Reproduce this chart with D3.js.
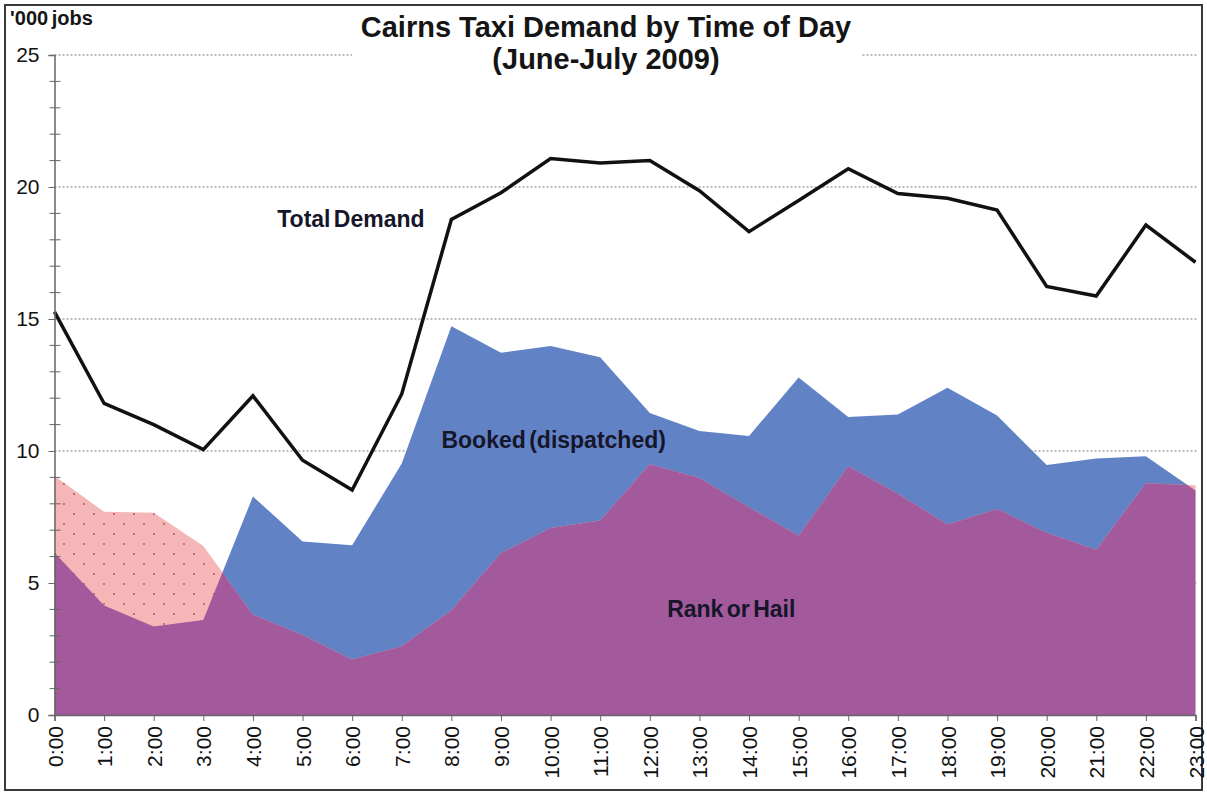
<!DOCTYPE html>
<html>
<head>
<meta charset="utf-8">
<script src="https://cdn.jsdelivr.net/npm/d3@7"></script>
<style>
  body { margin: 0; background: #fff; }
  svg { display: block; font-family: "Liberation Sans", Arial, sans-serif; }
</style>
</head>
<body>
<div id="chart"></div>
<script>
const hours = ["0:00", "1:00", "2:00", "3:00", "4:00", "5:00", "6:00", "7:00", "8:00", "9:00", "10:00", "11:00",
  "12:00", "13:00", "14:00", "15:00", "16:00", "17:00", "18:00", "19:00", "20:00", "21:00", "22:00", "23:00"];

// '000 jobs
const rankOrHail = [9.05, 7.7, 7.66, 6.4, 3.8, 3.03, 2.1, 2.6, 3.97, 6.14, 7.08, 7.37,
  9.5, 8.98, 7.87, 6.79, 9.42, 8.38, 7.22, 7.8, 6.9, 6.26, 8.78, 8.7];
const booked = [6.15, 4.15, 3.35, 3.6, 8.28, 6.57, 6.43, 9.53, 14.73, 13.72, 13.98, 13.55,
  11.44, 10.76, 10.57, 12.78, 11.29, 11.38, 12.4, 11.34, 9.47, 9.72, 9.8, 8.5];
const totalDemand = [15.27, 11.8, 11.0, 10.05, 12.09, 9.65, 8.52, 12.16, 18.77, 19.78, 21.08, 20.91,
  21.0, 19.86, 18.31, 19.49, 20.69, 19.75, 19.57, 19.13, 16.23, 15.87, 18.56, 17.15];

const majorTicks = [0, 5, 10, 15, 20, 25];
const minorTicks = [1, 2, 3, 4, 6, 7, 8, 9, 11, 12, 13, 14, 16, 17, 18, 19, 21, 22, 23, 24];

const width = 1207, height = 796;
const svg = d3.select("#chart").append("svg").attr("width", width).attr("height", height);

const x = d3.scalePoint().domain(hours).range([54.5, 1195.5]);
const xi = d3.scaleLinear().domain([0, 23]).range([54.5, 1195.5]);
const y = d3.scaleLinear().domain([0, 25]).range([715, 55]);

// outer frame
svg.append("rect")
  .attr("x", 5).attr("y", 5).attr("width", 1197).attr("height", 785)
  .attr("fill", "none").attr("stroke", "#3a3a3a").attr("stroke-width", 2);

// dotted pink fill
const defs = svg.append("defs");
const pat = defs.append("pattern")
  .attr("id", "pinkdots").attr("patternUnits", "userSpaceOnUse")
  .attr("width", 20).attr("height", 20);
pat.append("rect").attr("width", 20).attr("height", 20).attr("fill", "#f4b6b6");
pat.append("circle").attr("cx", 4).attr("cy", 4).attr("r", 0.9).attr("fill", "#c8405a");
pat.append("circle").attr("cx", 14).attr("cy", 14).attr("r", 0.9).attr("fill", "#c8405a");

// gridlines
svg.append("g")
  .selectAll("line")
  .data(majorTicks.filter(d => d > 0))
  .join("line")
  .attr("x1", x(hours[0])).attr("x2", x(hours[hours.length - 1]) + 2)
  .attr("y1", d => y(d)).attr("y2", d => y(d))
  .attr("stroke", "#777").attr("stroke-width", 1).attr("stroke-dasharray", "2 2");

const bookedArea = d3.area()
  .x((d, i) => x(hours[i]))
  .y0(y(0))
  .y1(d => y(d));

defs.append("clipPath").attr("id", "bookedClip")
  .append("path").attr("d", bookedArea(booked));

svg.append("path").attr("d", bookedArea(booked)).attr("fill", "#6282c6");
svg.append("path").attr("d", bookedArea(rankOrHail)).attr("fill", "url(#pinkdots)");
svg.append("path").attr("d", bookedArea(rankOrHail))
  .attr("fill", "#a25a9c")
  .attr("clip-path", "url(#bookedClip)");

// total demand line
svg.append("path")
  .attr("d", d3.line().x((d, i) => x(hours[i])).y(d => y(d))(totalDemand))
  .attr("fill", "none")
  .attr("stroke", "#111")
  .attr("stroke-width", 3.5)
  .attr("stroke-linejoin", "miter");

// y axis
const yAxis = svg.append("g").attr("transform", `translate(${x(hours[0])},0)`)
  .call(d3.axisLeft(y).tickValues(majorTicks).tickSize(6).tickPadding(9).tickFormat(d3.format("d")));
yAxis.select(".domain").attr("stroke", "#666").attr("stroke-width", 1.5);
yAxis.selectAll(".tick line").attr("stroke", "#666");
yAxis.selectAll("text").attr("font-size", 21).attr("fill", "#111");

svg.append("g")
  .selectAll("line")
  .data(minorTicks)
  .join("line")
  .attr("x1", x(hours[0]) - 5).attr("x2", x(hours[0]) + 6)
  .attr("y1", d => y(d)).attr("y2", d => y(d))
  .attr("stroke", "#666");

// x axis
const xAxis = svg.append("g").attr("transform", `translate(0,${y(0)})`)
  .call(d3.axisBottom(x).tickSize(6).tickPadding(0));
xAxis.select(".domain").attr("stroke", "#666").attr("stroke-width", 1.5);
xAxis.selectAll(".tick line").attr("stroke", "#666");
xAxis.selectAll("text")
  .attr("font-size", 21)
  .attr("fill", "#111")
  .attr("text-anchor", "end")
  .attr("transform", "rotate(-90)")
  .attr("x", -11)
  .attr("y", 0)
  .attr("dy", "0.36em");

// series labels
const label = (text, h, v) => svg.append("text")
  .attr("x", xi(h)).attr("y", y(v))
  .attr("font-size", 23).attr("font-weight", "bold")
  .attr("fill", "#16162a")
  .attr("word-spacing", -3)
  .text(text);
label("Total Demand", 4.49, 18.5);
label("Booked (dispatched)", 7.8, 10.12);
label("Rank or Hail", 12.35, 3.7);

// title
svg.append("rect").attr("x", 352).attr("y", 10).attr("width", 510).attr("height", 70).attr("fill", "#fff");
svg.append("text")
  .attr("x", 606).attr("y", 37)
  .attr("text-anchor", "middle")
  .attr("font-size", 29).attr("font-weight", "bold").attr("fill", "#151515")
  .text("Cairns Taxi Demand by Time of Day");
svg.append("text")
  .attr("x", 606).attr("y", 69)
  .attr("text-anchor", "middle")
  .attr("font-size", 29).attr("font-weight", "bold").attr("fill", "#151515")
  .text("(June-July 2009)");

svg.append("text")
  .attr("x", 10).attr("y", 25)
  .attr("font-size", 20).attr("font-weight", "bold").attr("fill", "#151515")
  .attr("word-spacing", -2)
  .text("'000 jobs");
</script>
</body>
</html>
